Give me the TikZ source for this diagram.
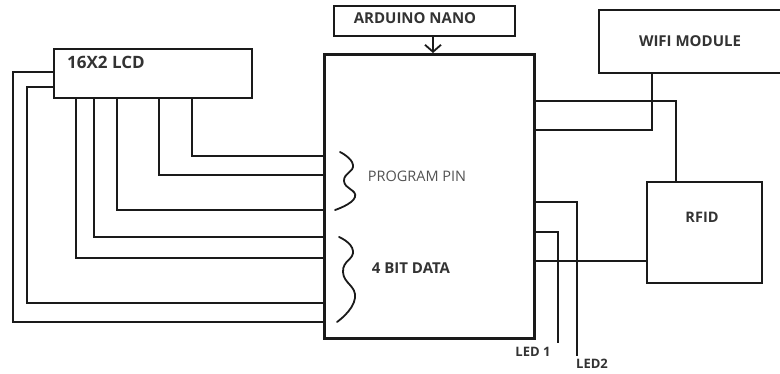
\documentclass[tikz,border=0pt]{standalone}
\usepackage{fontspec}
\setmainfont{Open Sans}
\usepackage{tikz}
\usetikzlibrary{arrows.meta,positioning,calc}
\definecolor{ink}{HTML}{1A1A1A}
\definecolor{txt}{HTML}{333333}

\begin{document}
\begin{tikzpicture}[
  x=1pt,y=-1pt,>=Latex,
  bx/.style={draw=ink,line width=2pt,inner sep=0pt,anchor=north west},
  lbl/.style={font=\bfseries\fontsize{15}{17}\selectfont,text=txt,inner sep=0pt},
  wire/.style={draw=ink,line width=1.8pt},
  wave/.style={draw=ink,line width=1.8pt,line cap=round}
]
\useasboundingbox (0,0) rectangle (780,373);
\node[bx,line width=3pt,minimum width=210,minimum height=284] (mcu) at (323,53) {};
\node[bx,minimum width=181,minimum height=30] (nano) at (333,5) {};
\node[bx,minimum width=198,minimum height=49] (lcd) at (53,48) {};
\node[bx,minimum width=190,minimum height=63] (wifi) at (598,9) {};
\node[bx,minimum width=115,minimum height=101] (rfid) at (646,181) {};
\node[lbl] (nanotxt) at (415,18) {ARDUINO NANO};
\node[lbl,anchor=west,font=\bfseries\fontsize{17}{19}\selectfont] (lcdtxt) at (67,62) {16X2 LCD};
\node[lbl,font=\bfseries\fontsize{15}{17}\selectfont] (wifitxt) at (690,41) {WIFI MODULE};
\node[lbl,font=\bfseries\fontsize{14.5}{16}\selectfont] (rfidtxt) at (702,217) {RFID};
\node[lbl,font=\fontsize{14.5}{16}\selectfont,text=txt!85] (progtxt) at (417,176) {PROGRAM PIN};
\node[lbl] (datatxt) at (411,268) {4 BIT DATA};
\coordinate (tap) at (433,35);
\draw[wire,-{Straight Barb[length=7pt,width=16pt]}] (tap) -- (tap |- mcu.north);
\foreach \px/\py in {76/258,94/237,117/210,159/175,192/156}
  \draw[wire] (\px,0 |- lcd.south) |- (mcu.west |- 0,\py);
\draw[wire] (lcd.west |- 0,72) -- ++(-40,0) |- (mcu.west |- 0,322);
\draw[wire] (lcd.west |- 0,87) -- ++(-26,0) |- (mcu.west |- 0,303);
\draw[wave] plot[smooth,tension=0.9] coordinates {(340,152) (353,165) (344,181) (355,197) (335,210)};
\draw[wave] plot[smooth,tension=0.9] coordinates {(339,237) (353,251) (343,272) (355,298) (337,322)};
\draw[wire] (mcu.east |- 0,101) -| (676,0 |- rfid.north);
\draw[wire] (mcu.east |- 0,130) -| (652,0 |- wifi.south);
\draw[wire] (mcu.east |- 0,261) -- (rfid.west |- 0,261);
\coordinate (led1) at (558,343);
\coordinate (led2) at (577,356);
\draw[wire] (mcu.east |- 0,232) -| (led1);
\draw[wire] (mcu.east |- 0,202) -| (led2);
\node[lbl,font=\bfseries\fontsize{13}{15}\selectfont] (led1txt) at (533,352) {LED 1};
\node[lbl,font=\bfseries\fontsize{13}{15}\selectfont] (led2txt) at (592,364) {LED2};
\end{tikzpicture}
\end{document}
